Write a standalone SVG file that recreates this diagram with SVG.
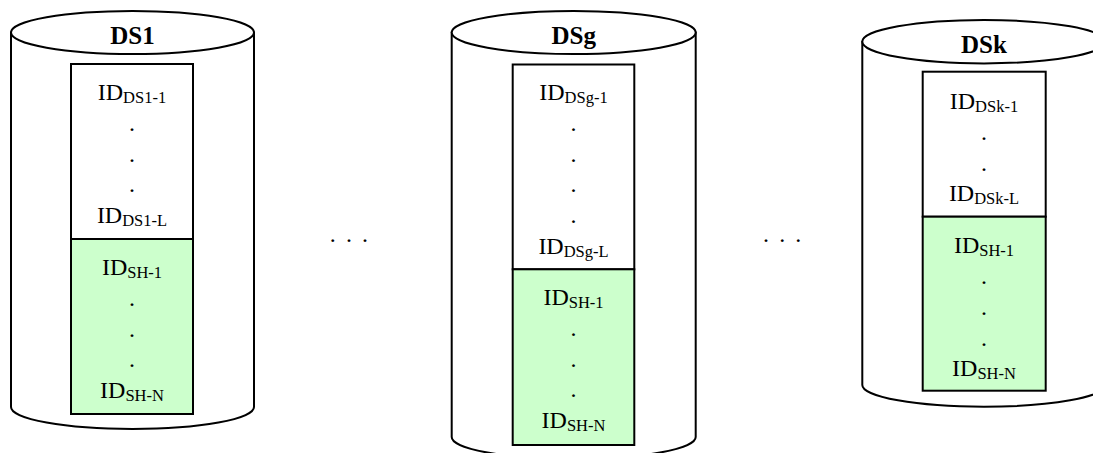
<svg xmlns="http://www.w3.org/2000/svg" width="1093" height="453" viewBox="0 0 1093 453">
  <style>
    .body { fill: #ffffff; stroke: #000000; stroke-width: 2; }
    .cap { fill: #ffffff; stroke: #000000; stroke-width: 2; }
    .ids { fill: #ffffff; stroke: #000000; stroke-width: 2; }
    .shared { fill: #ccffcc; stroke: #000000; stroke-width: 2; }
    .title { font-family: "Liberation Serif", "Times New Roman", serif; font-weight: bold; font-size: 25px; text-anchor: middle; fill: #000000; }
    .lbl { font-family: "Liberation Serif", "Times New Roman", serif; font-size: 24px; text-anchor: middle; fill: #000000; }
    .sub { font-size: 16.5px; }
    .gap { font-family: "Liberation Serif", "Times New Roman", serif; font-size: 24px; fill: #000000; }
  </style>

  <!-- data store DS1 -->
  <g id="ds1">
    <path class="body" d="M11,32.5 L11,407 A121.5,22 0 0 0 254,407 L254,32.5 Z"/>
    <ellipse class="cap" cx="132.5" cy="32.5" rx="121.5" ry="21.5"/>
    <text class="title" x="132.5" y="44">DS1</text>
    <rect class="ids" x="71" y="64" width="122" height="175"/>
    <rect class="shared" x="71" y="239" width="122" height="175"/>
    <text class="lbl" x="132" y="100">ID<tspan class="sub" dy="3">DS1-1</tspan></text>
    <text class="lbl" x="132" y="130.75">.</text>
    <text class="lbl" x="132" y="161.5">.</text>
    <text class="lbl" x="132" y="192.25">.</text>
    <text class="lbl" x="132" y="223">ID<tspan class="sub" dy="3">DS1-L</tspan></text>
    <text class="lbl" x="132" y="275">ID<tspan class="sub" dy="3">SH-1</tspan></text>
    <text class="lbl" x="132" y="305.75">.</text>
    <text class="lbl" x="132" y="336.5">.</text>
    <text class="lbl" x="132" y="367.25">.</text>
    <text class="lbl" x="132" y="398">ID<tspan class="sub" dy="3">SH-N</tspan></text>
  </g>

  <!-- data store DSg -->
  <g id="dsg">
    <path class="body" d="M451.7,32.5 L451.7,437 A122,22 0 0 0 695.7,437 L695.7,32.5 Z"/>
    <ellipse class="cap" cx="573.7" cy="32.5" rx="122" ry="21.5"/>
    <text class="title" x="573.7" y="44">DSg</text>
    <rect class="ids" x="512.7" y="64.5" width="121.6" height="204.8"/>
    <rect class="shared" x="512.7" y="269.3" width="121.6" height="175.7"/>
    <text class="lbl" x="573.5" y="100">ID<tspan class="sub" dy="3">DSg-1</tspan></text>
    <text class="lbl" x="573.5" y="130.75">.</text>
    <text class="lbl" x="573.5" y="161.5">.</text>
    <text class="lbl" x="573.5" y="192.25">.</text>
    <text class="lbl" x="573.5" y="223">.</text>
    <text class="lbl" x="573.5" y="253.75">ID<tspan class="sub" dy="3">DSg-L</tspan></text>
    <text class="lbl" x="573.5" y="305">ID<tspan class="sub" dy="3">SH-1</tspan></text>
    <text class="lbl" x="573.5" y="335.75">.</text>
    <text class="lbl" x="573.5" y="366.5">.</text>
    <text class="lbl" x="573.5" y="397.25">.</text>
    <text class="lbl" x="573.5" y="428">ID<tspan class="sub" dy="3">SH-N</tspan></text>
  </g>

  <!-- data store DSk -->
  <g id="dsk">
    <path class="body" d="M862.3,41.7 L862.3,385 A121.7,21.7 0 0 0 1105.7,385 L1105.7,41.7 Z"/>
    <ellipse class="cap" cx="984" cy="41.7" rx="121.7" ry="21.7"/>
    <text class="title" x="984" y="53">DSk</text>
    <rect class="ids" x="922.7" y="71.7" width="123" height="145"/>
    <rect class="shared" x="922.7" y="216.7" width="123" height="174"/>
    <text class="lbl" x="984" y="109.3">ID<tspan class="sub" dy="3">DSk-1</tspan></text>
    <text class="lbl" x="984" y="140">.</text>
    <text class="lbl" x="984" y="170.8">.</text>
    <text class="lbl" x="984" y="201">ID<tspan class="sub" dy="3">DSk-L</tspan></text>
    <text class="lbl" x="984" y="253.3">ID<tspan class="sub" dy="3">SH-1</tspan></text>
    <text class="lbl" x="984" y="284">.</text>
    <text class="lbl" x="984" y="314.8">.</text>
    <text class="lbl" x="984" y="345.5">.</text>
    <text class="lbl" x="984" y="376.3">ID<tspan class="sub" dy="3">SH-N</tspan></text>
  </g>

  <!-- ellipses between the stores -->
  <g id="connectors">
    <text class="gap" x="329.7 338 346 354 362" y="242">. . .</text>
    <text class="gap" x="763 771 779.3 787 795.3" y="242">. . .</text>
  </g>
</svg>
